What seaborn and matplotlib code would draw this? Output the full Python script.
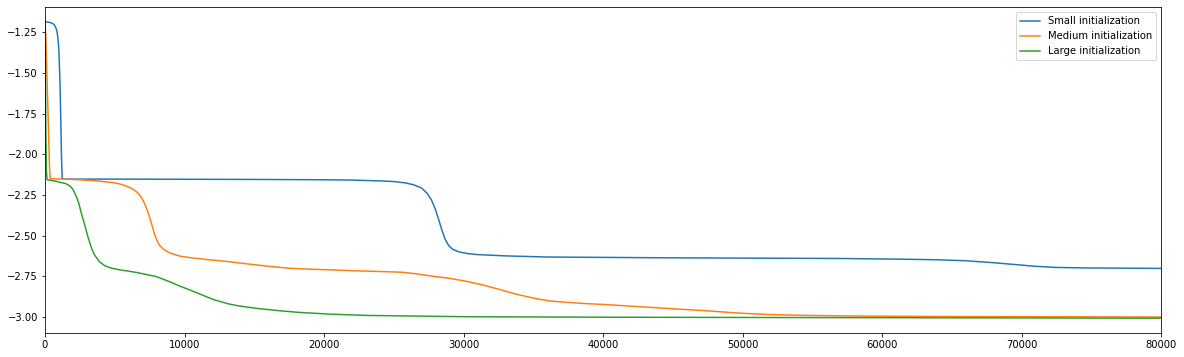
import numpy as np
import pandas as pd
import matplotlib
matplotlib.use("Agg")
import matplotlib.pyplot as plt
import seaborn as sns

# values
small_x = [0, 300, 500, 650, 750, 850, 920, 980, 1030, 1075, 1110, 1150, 1190,
           1230, 1260, 1500, 5000, 10000, 15000, 20000, 22000, 24000, 25000,
           25800, 26400, 27000, 27400, 27700, 27950, 28200, 28450, 28700, 28950,
           29250, 29700, 30300, 31000, 33000, 36000, 45000, 57000, 62000, 64000,
           66000, 68000, 69500, 71000, 72500, 74500, 80000]
small_y = [-1.185, -1.188, -1.193, -1.202, -1.215, -1.240, -1.280, -1.340, -1.440,
           -1.560, -1.700, -1.880, -2.040, -2.140, -2.152, -2.152, -2.152, -2.153,
           -2.154, -2.156, -2.158, -2.163, -2.167, -2.175, -2.186, -2.207, -2.240,
           -2.280, -2.330, -2.395, -2.465, -2.525, -2.562, -2.585, -2.600, -2.610,
           -2.616, -2.624, -2.631, -2.636, -2.640, -2.645, -2.648, -2.654, -2.666,
           -2.677, -2.688, -2.695, -2.698, -2.701]

medium_x = [0, 60, 150, 250, 330, 380, 1000, 2500, 4000, 4500, 5000, 5500, 5900,
            6300, 6600, 6850, 7050, 7250, 7450, 7650, 7850, 8050, 8250, 8500,
            8800, 9200, 9700, 10500, 12000, 13000, 14500, 16000, 17500, 19000,
            20500, 22000, 24000, 25500, 26500, 27800, 29000, 30200, 31400, 32600,
            33800, 35000, 35600, 36200, 37000, 38500, 40300, 45000, 47500, 49800,
            52000, 54600, 58400, 65000, 80000]
medium_y = [-1.19, -1.28, -1.55, -1.85, -2.10, -2.150, -2.151, -2.156, -2.165,
            -2.170, -2.175, -2.185, -2.197, -2.214, -2.232, -2.256, -2.286, -2.325,
            -2.375, -2.430, -2.490, -2.535, -2.563, -2.583, -2.600, -2.613, -2.626,
            -2.636, -2.650, -2.658, -2.673, -2.688, -2.700, -2.706, -2.710, -2.715,
            -2.720, -2.724, -2.733, -2.749, -2.762, -2.780, -2.803, -2.831, -2.860,
            -2.883, -2.893, -2.901, -2.907, -2.916, -2.924, -2.949, -2.962, -2.976,
            -2.985, -2.990, -2.994, -2.997, -3.000]

large_x = [0, 30, 60, 100, 150, 300, 800, 1000, 1500, 1800, 2000, 2150, 2300,
           2450, 2600, 2750, 2900, 3050, 3200, 3350, 3500, 3650, 3900, 4100, 4300,
           4600, 4900, 5500, 6000, 6500, 7300, 8000, 9000, 9700, 10400, 11000,
           11600, 12100, 12700, 13200, 13800, 14500, 15500, 16800, 18300, 20400,
           23000, 30200, 40000, 60000, 80000]
large_y = [-1.19, -1.50, -1.85, -2.10, -2.155, -2.158, -2.165, -2.170, -2.180,
           -2.195, -2.215, -2.240, -2.270, -2.310, -2.360, -2.405, -2.450, -2.500,
           -2.540, -2.580, -2.610, -2.630, -2.660, -2.673, -2.685, -2.695, -2.702,
           -2.712, -2.718, -2.725, -2.739, -2.752, -2.785, -2.811, -2.834, -2.855,
           -2.876, -2.893, -2.908, -2.920, -2.930, -2.939, -2.950, -2.961, -2.972,
           -2.982, -2.990, -2.998, -3.001, -3.004, -3.007]

labels = ["Small initialization", "Medium initialization", "Large initialization"]

# long-form table for seaborn
df = pd.concat([
    pd.DataFrame({"step": small_x, "value": small_y, "init": labels[0]}),
    pd.DataFrame({"step": medium_x, "value": medium_y, "init": labels[1]}),
    pd.DataFrame({"step": large_x, "value": large_y, "init": labels[2]}),
], ignore_index=True)

fig = plt.figure(figsize=(1184 / 72, 357 / 72), dpi=72)
ax = fig.add_axes([45 / 1184, 1 - 333 / 357, 1116 / 1184, 326 / 357])

sns.lineplot(data=df, x="step", y="value", hue="init", hue_order=labels,
             palette="tab10", estimator=None, sort=True, ax=ax)

ax.set_xlim(0, 80000)
ax.set_xlabel("")
ax.set_ylabel("")
handles, labs = ax.get_legend_handles_labels()
ax.legend(handles, labs, loc="upper right")

fig.savefig("out.png", dpi=72)
